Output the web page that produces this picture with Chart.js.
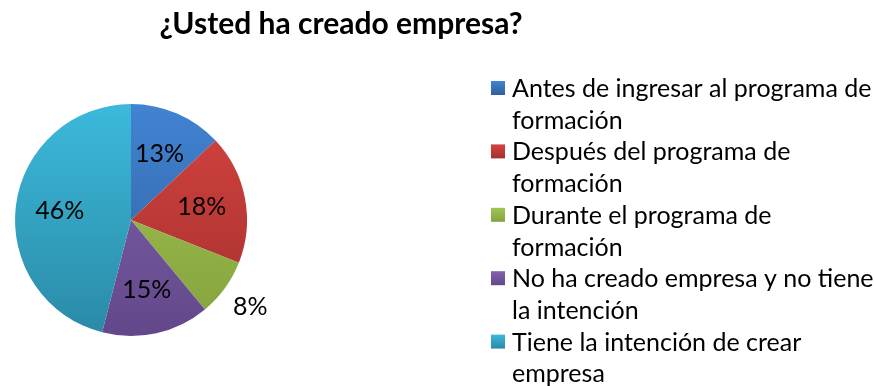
<!DOCTYPE html>
<html>

<head>
    <meta charset='utf-8'>
    <title>¿Usted ha creado empresa?</title>
    <script src="https://cdn.jsdelivr.net/npm/chart.js@4.4.0/dist/chart.umd.min.js"></script>
    <style>
        body { margin: 0; background: #fff; }
        #wrap { width: 874px; height: 386px; position: relative; }
    </style>
</head>

<body>
    <div id="wrap">
        <canvas id="chart"></canvas>
    </div>
    <script>
        var titulo = '¿Usted ha creado empresa?';
        // each legend label already split into its two lines
        var categorias = [
            ['Antes de ingresar al programa de', 'formación'],
            ['Después del programa de', 'formación'],
            ['Durante el programa de', 'formación'],
            ['No ha creado empresa y no tiene', 'la intención'],
            ['Tiene la intención de crear', 'empresa']
        ];
        var porcentajes = [13, 18, 8, 15, 46];
        var colorArriba = ['#4183d2', '#d4433f', '#a2c653', '#8263ae', '#3cb9db'];
        var colorAbajo = ['#2f5f9c', '#a3302d', '#84a23d', '#62488a', '#2a8aa6'];

        var fuente = 'Lato, "Open Sans", sans-serif';

        function degradado(c) {
            var area = c.chart.chartArea;
            var i = c.dataIndex;
            if (!area) return colorArriba[i];
            var g = c.chart.ctx.createLinearGradient(0, area.top, 0, area.bottom);
            g.addColorStop(0, colorArriba[i]);
            g.addColorStop(1, colorAbajo[i]);
            return g;
        }

        // title, percentage labels and the wrapped legend
        var extras = {
            id: 'extras',
            afterDraw: function (chart) {
                var ctx = chart.ctx;
                ctx.save();
                ctx.fillStyle = '#000';

                ctx.font = 'bold 30px ' + fuente;
                ctx.textAlign = 'center';
                ctx.textBaseline = 'alphabetic';
                ctx.fillText(titulo, 341, 34);

                var arcs = chart.getDatasetMeta(0).data;
                ctx.font = '25px ' + fuente;
                ctx.textBaseline = 'middle';
                arcs.forEach(function (arc, i) {
                    var mid = (arc.startAngle + arc.endAngle) / 2;
                    var r = porcentajes[i] < 10 ? arc.outerRadius * 1.27 : arc.outerRadius * 0.62;
                    var x = arc.x + Math.cos(mid) * r;
                    var y = arc.y + Math.sin(mid) * r;
                    ctx.fillText(porcentajes[i] + '%', x, y);
                });

                var y0 = 97, paso = 31.7;
                ctx.textAlign = 'left';
                ctx.textBaseline = 'alphabetic';
                ctx.font = '25px ' + fuente;
                var linea = 0;
                categorias.forEach(function (lineas, i) {
                    var by = y0 + linea * paso - 16;
                    var g = ctx.createLinearGradient(0, by, 0, by + 14);
                    g.addColorStop(0, colorArriba[i]);
                    g.addColorStop(1, colorAbajo[i]);
                    ctx.fillStyle = g;
                    ctx.fillRect(491, by, 14, 14);
                    ctx.fillStyle = '#000';
                    lineas.forEach(function (t) {
                        ctx.fillText(t, 512, y0 + linea * paso);
                        linea++;
                    });
                });
                ctx.restore();
            }
        };

        var chart = new Chart(document.getElementById('chart'), {
            type: 'pie',
            data: {
                labels: categorias,
                datasets: [{
                    data: porcentajes,
                    backgroundColor: degradado,
                    borderWidth: 0,
                    radius: 116
                }]
            },
            options: {
                responsive: true,
                maintainAspectRatio: false,
                animation: false,
                layout: { padding: { left: 15, top: 104, right: 627, bottom: 50 } },
                plugins: {
                    legend: { display: false },
                    title: { display: false },
                    tooltip: { enabled: false }
                }
            },
            plugins: [extras]
        });
    </script>
</body>

</html>
